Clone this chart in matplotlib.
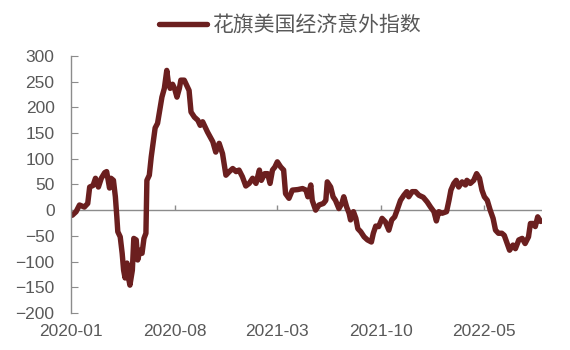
import matplotlib
matplotlib.use("Agg")
import matplotlib.pyplot as plt
import pandas as pd

plt.rcParams['font.family'] = ['Liberation Sans', 'Noto Sans CJK SC', 'DejaVu Sans']

# Citi US economic surprise index (days since 2020-01-01, value)
day_offsets = [
    2, 10, 17, 27, 34, 38, 45, 50, 56, 62, 69, 73, 79, 82, 87, 91, 94, 96,
    101, 105, 108, 111, 115, 119, 121, 126, 129, 134, 137, 142, 146, 150,
    154, 156, 161, 165, 173, 178, 183, 187, 192, 197, 200, 204, 209, 213,
    218, 223, 226, 233, 238, 243, 247, 254, 261, 266, 271, 281, 292, 298,
    305, 312, 319, 326, 333, 340, 346, 353, 360, 367, 374, 381, 388, 392,
    399, 405, 410, 415, 420, 425, 432, 438, 442, 449, 456, 467, 477, 484,
    488, 494, 497, 504, 511, 520, 525, 528, 535, 540, 545, 552, 558, 562,
    568, 573, 576, 582, 587, 591, 597, 604, 611, 619, 623, 628, 634, 641,
    648, 655, 661, 667, 672, 679, 686, 692, 696, 703, 710, 717, 726, 734,
    741, 748, 753, 758, 765, 774, 779, 783, 789, 794, 799, 806, 813, 816,
    823, 830, 836, 842, 847, 852, 858, 864, 870, 875, 881, 888, 893, 899,
    904, 911, 916, 923, 930, 936, 943, 947, 953, 957, 962, 968,
]
surprise = [
    -10, -3, 10, 6, 13, 45, 48, 62, 45, 62, 73, 75, 43, 62, 58, 26, -13, -42,
    -52, -84, -117, -132, -103, -136, -146, -117, -55, -58, -97, -78, -84, -55,
    -45, 58, 68, 104, 160, 169, 198, 220, 237, 272, 250, 237, 245, 237,
    220, 237, 253, 253, 243, 233, 191, 181, 175, 165, 172, 152, 133, 113,
    130, 110, 68, 75, 81, 75, 78, 65, 47, 52, 62, 52, 78, 58,
    71, 71, 52, 78, 84, 94, 84, 78, 32, 23, 39, 40, 42, 39,
    26, 49, 19, 0, 10, 13, 19, 55, 45, 26, 19, 3, 13, 26,
    6, -6, -19, -3, -16, -36, -42, -52, -58, -62, -45, -31, -32, -16,
    -23, -39, -19, -13, 0, 19, 29, 36, 26, 36, 36, 29, 25, 16,
    6, -3, -21, -3, -6, -3, 19, 39, 52, 58, 45, 55, 49, 58,
    52, 58, 71, 62, 39, 26, 19, 0, -16, -39, -45, -45, -49, -65,
    -78, -68, -75, -58, -55, -65, -52, -26, -26, -32, -13, -22,
]

start = pd.Timestamp("2020-01-01")
dates = start + pd.to_timedelta(day_offsets, unit="D")
tick_dates = pd.to_datetime(["2020-01-01", "2020-08-01", "2021-03-01", "2021-10-01", "2022-05-01"])
tick_labels = ["2020-01", "2020-08", "2021-03", "2021-10", "2022-05"]
y_ticks = list(range(-200, 301, 50))

line_color = "#6b1f1f"
axis_color = "#8c8c8c"
text_color = "#595959"

fig = plt.figure(figsize=(5.7, 3.5), dpi=100)
ax = fig.add_axes([0.125, 0.106, 0.826, 0.734])

ax.plot(dates, surprise, color=line_color, linewidth=3.9, solid_joinstyle="round",
        solid_capstyle="round", label="花旗美国经济意外指数")

# zero line with small upward ticks
ax.axhline(0, color=axis_color, linewidth=1, zorder=1)
ax.vlines(tick_dates[1:], 0, 10, color=axis_color, linewidth=1, zorder=1)

ax.set_xlim(start, start + pd.Timedelta(days=971))
ax.set_ylim(-200, 300)
ax.set_yticks(y_ticks)
ax.set_xticks(tick_dates)
ax.set_xticklabels(tick_labels)

for side in ["top", "right", "bottom"]:
    ax.spines[side].set_visible(False)
ax.spines["left"].set_color(axis_color)
ax.spines["left"].set_linewidth(1)

ax.tick_params(axis="y", direction="in", length=5, color=axis_color, pad=12,
               labelsize=12.5, labelcolor=text_color)
ax.tick_params(axis="x", length=0, pad=8, labelsize=12.5, labelcolor=text_color)

fig.legend(loc="upper center", bbox_to_anchor=(0.51, 1.01), frameon=False,
           fontsize=15, handlelength=2.3, handletextpad=0.3, labelcolor=text_color)

fig.savefig("out.png", dpi=100)
